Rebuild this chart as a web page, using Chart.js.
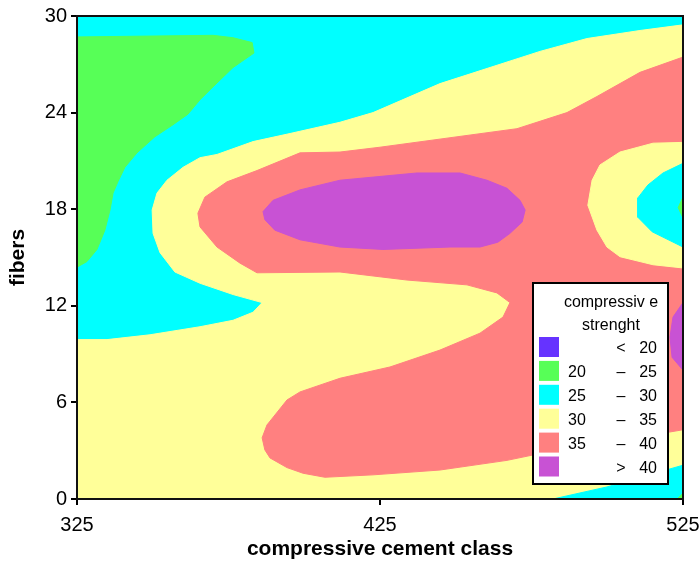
<!DOCTYPE html>
<html lang="en">
<head>
  <meta charset="UTF-8">
  <title>Compressive strength contour</title>
  <script src="https://cdn.jsdelivr.net/npm/chart.js"></script>
  <style>
    html, body {
      margin: 0;
      padding: 0;
      background: #fff;
    }
    .chart-container {
      position: relative;
      width: 699px;
      height: 565px;
    }
  </style>
</head>
<body>
  <div class="chart-container">
    <canvas id="contourChart" width="699" height="565"></canvas>
  </div>

  <script>
    // axis ticks
    const xTicks = [325, 425, 525];
    const yTicks = [0, 6, 12, 18, 24, 30];

    // contour regions as [cement class, fibers]
    const cyanBase = [[325, 0], [325, 30], [525, 30], [525, 0]];
    const greenTopLeft = [[325, 28.7], [369.9, 28.8], [376.5, 28.65], [382.8, 28.35], [383.4, 27.7], [376.5, 26.8],
      [369.9, 25.6], [365.6, 24.8], [361.6, 23.9], [356.7, 23.25], [350.7, 22.5], [344.8, 21.5], [340.8, 20.6],
      [338.5, 19.7], [336.9, 19.0], [335.9, 17.95], [334.2, 16.7], [331.6, 15.5], [328.3, 14.75], [325, 14.4]];
    const yellowMain = [[325, 0], [325, 9.9], [334.9, 9.9], [349.1, 10.2], [365.6, 10.7], [376.5, 11.1], [383.1, 11.6],
      [386.1, 12.2], [376.5, 12.7], [365.6, 13.4], [357.3, 14.1], [352.4, 15.3], [350.1, 16.5], [349.8, 17.95],
      [351.4, 19.0], [354.7, 19.8], [360.0, 20.6], [365.6, 21.2], [371.2, 21.4], [383.1, 22.2], [395.3, 22.7],
      [411.8, 23.4], [422.7, 24.0], [444.8, 25.8], [477.8, 27.8], [493.3, 28.6], [510.8, 29.1], [525, 29.45], [525, 0]];
    const redMain = [[525, 27.45], [510.8, 26.5], [496.6, 25.0], [486.7, 24.0], [470.2, 23.0], [425.0, 21.85],
      [411.8, 21.55], [398.6, 21.5], [384.4, 20.4], [374.5, 19.7], [367.2, 18.75], [364.9, 17.75], [365.6, 16.9],
      [371.2, 15.65], [378.8, 14.65], [384.4, 14.05], [411.8, 14.1], [433.9, 13.6], [453.7, 13.3], [463.6, 12.8],
      [467.9, 12.2], [465.6, 11.3], [458.0, 10.3], [444.8, 9.25], [428.3, 8.2], [411.8, 7.5], [398.6, 6.65],
      [394.3, 6.15], [387.7, 4.6], [386.1, 3.8], [387.0, 3.05], [388.7, 2.55], [394.3, 1.95], [399.6, 1.6],
      [406.8, 1.35], [422.7, 1.5], [444.8, 1.8], [466.9, 2.4], [488.7, 3.25], [510.8, 3.85], [525, 4.3]];
    const purpleCentre = [[386.4, 17.85], [389.7, 18.55], [398.6, 19.2], [411.8, 19.8], [437.2, 20.25], [451.4, 20.25],
      [460.3, 19.8], [466.9, 19.3], [471.2, 18.55], [472.9, 17.95], [471.9, 17.2], [467.9, 16.5], [463.9, 15.95],
      [458.0, 15.65], [448.1, 15.65], [426.0, 15.5], [411.8, 15.65], [398.6, 16.1], [390.3, 16.7], [387.0, 17.35]];
    const purpleRight = [[525, 12.2], [521.7, 11.3], [520.7, 10.05], [521.4, 8.8], [525, 8.0]];
    const yellowRight = [[525, 22.15], [515.1, 22.1], [504.2, 21.55], [497.6, 20.75], [495.0, 19.8], [493.6, 18.25],
      [496.6, 16.7], [499.9, 15.65], [504.2, 15.05], [515.1, 14.55], [525, 14.35]];
    const cyanRight = [[525, 20.85], [518.4, 20.25], [513.4, 19.5], [510.1, 18.7], [510.1, 17.5], [514.8, 16.6], [525, 15.65]];
    const greenRight = [[525, 18.75], [523.4, 18.1], [525, 17.45]];
    const cyanBottomRight = [[482.1, 0], [499.9, 0.75], [525, 2.1], [525, 0]];
    const greenBottomRight = [[523, 0], [525, 0.35], [525, 0]];

    // legend bands
    const legendLow = ['', '20', '25', '30', '35', ''];
    const legendSign = ['<', '–', '–', '–', '–', '>'];
    const legendHigh = ['20', '25', '30', '35', '40', '40'];

    const colors = {
      blue: '#6633ff',
      green: '#57ff57',
      cyan: '#00ffff',
      yellow: '#ffff99',
      red: '#ff8080',
      purple: '#c852d4'
    };
    const legendColors = [colors.blue, colors.green, colors.cyan, colors.yellow, colors.red, colors.purple];

    // bottom to top
    const layers = [
      [cyanBase, 'cyan'], [greenTopLeft, 'green'], [yellowMain, 'yellow'], [redMain, 'red'],
      [purpleCentre, 'purple'], [purpleRight, 'purple'], [yellowRight, 'yellow'], [cyanRight, 'cyan'],
      [greenRight, 'green'], [cyanBottomRight, 'cyan'], [greenBottomRight, 'green']
    ];

    const datasets = layers.map(([pts, c], i) => ({
      data: pts.concat([pts[0]]).map(([x, y]) => ({ x, y })),
      showLine: true,
      fill: 'shape',
      backgroundColor: colors[c],
      borderColor: colors[c],
      borderWidth: 1,
      pointRadius: 0,
      tension: 0,
      clip: 0,
      order: layers.length - i
    }));

    const FONT = "'Liberation Sans', Arial, sans-serif";

    // frame round the plot and the legend box
    const framePlugin = {
      id: 'frame',
      afterDatasetsDraw(chart) {
        const { ctx, chartArea: a } = chart;
        ctx.save();
        ctx.strokeStyle = '#111';
        ctx.lineWidth = 2;
        ctx.strokeRect(a.left, a.top, a.right - a.left, a.bottom - a.top);
        ctx.restore();
      },
      afterDraw(chart) {
        const { ctx, chartArea: a } = chart;
        const left = a.right - 150, top = a.bottom - 216;
        const w = 135, h = 201;
        ctx.save();
        ctx.fillStyle = '#fff';
        ctx.fillRect(left, top, w, h);
        ctx.strokeStyle = '#000';
        ctx.lineWidth = 2;
        ctx.strokeRect(left, top, w, h);

        ctx.fillStyle = '#000';
        ctx.font = '16px ' + FONT;
        ctx.textBaseline = 'alphabetic';
        ctx.textAlign = 'center';
        ctx.fillText('compressiv e', left + 78, top + 24);
        ctx.fillText('strenght', left + 78, top + 47);

        legendColors.forEach((col, i) => {
          const ry = top + 54 + i * 23.9;
          ctx.fillStyle = col;
          ctx.fillRect(left + 6, ry, 20, 20);
          ctx.fillStyle = '#000';
          ctx.textAlign = 'left';
          ctx.fillText(legendLow[i], left + 35, ry + 16);
          ctx.textAlign = 'center';
          ctx.fillText(legendSign[i], left + 88, ry + 16);
          ctx.textAlign = 'right';
          ctx.fillText(legendHigh[i], left + 124, ry + 16);
        });
        ctx.restore();
      }
    };

    const config = {
      type: 'scatter',
      data: { datasets },
      options: {
        responsive: false,
        animation: false,
        devicePixelRatio: 1,
        layout: { padding: { top: 16, right: 16, left: 0, bottom: 0 } },
        plugins: {
          legend: { display: false },
          tooltip: { enabled: false }
        },
        scales: {
          x: {
            type: 'linear',
            min: 325,
            max: 525,
            afterBuildTicks: s => { s.ticks = xTicks.map(v => ({ value: v })); },
            afterFit: s => { s.height = 66; s.paddingLeft = 0; s.paddingRight = 0; },
            grid: { drawOnChartArea: false, drawTicks: true, tickLength: 6, color: '#000', lineWidth: 2 },
            border: { display: true, color: '#000', width: 2 },
            ticks: { color: '#000', padding: 8, maxRotation: 0, font: { family: FONT, size: 20 } },
            title: {
              display: true,
              text: 'compressive cement class',
              color: '#000',
              padding: { top: 0, bottom: 3 },
              font: { family: FONT, size: 21, weight: 'bold' }
            }
          },
          y: {
            type: 'linear',
            min: 0,
            max: 30,
            afterBuildTicks: s => { s.ticks = yTicks.map(v => ({ value: v })); },
            afterFit: s => { s.width = 77; s.paddingTop = 0; s.paddingBottom = 0; },
            grid: { drawOnChartArea: false, drawTicks: true, tickLength: 6, color: '#000', lineWidth: 2 },
            border: { display: true, color: '#000', width: 2 },
            ticks: { color: '#000', padding: 4, font: { family: FONT, size: 20 } },
            title: {
              display: true,
              text: 'fibers',
              color: '#000',
              padding: { top: 6, bottom: 0 },
              font: { family: FONT, size: 21, weight: 'bold' }
            }
          }
        }
      },
      plugins: [framePlugin]
    };

    const ctx = document.getElementById('contourChart').getContext('2d');
    const chart = new Chart(ctx, config);
  </script>
</body>
</html>
